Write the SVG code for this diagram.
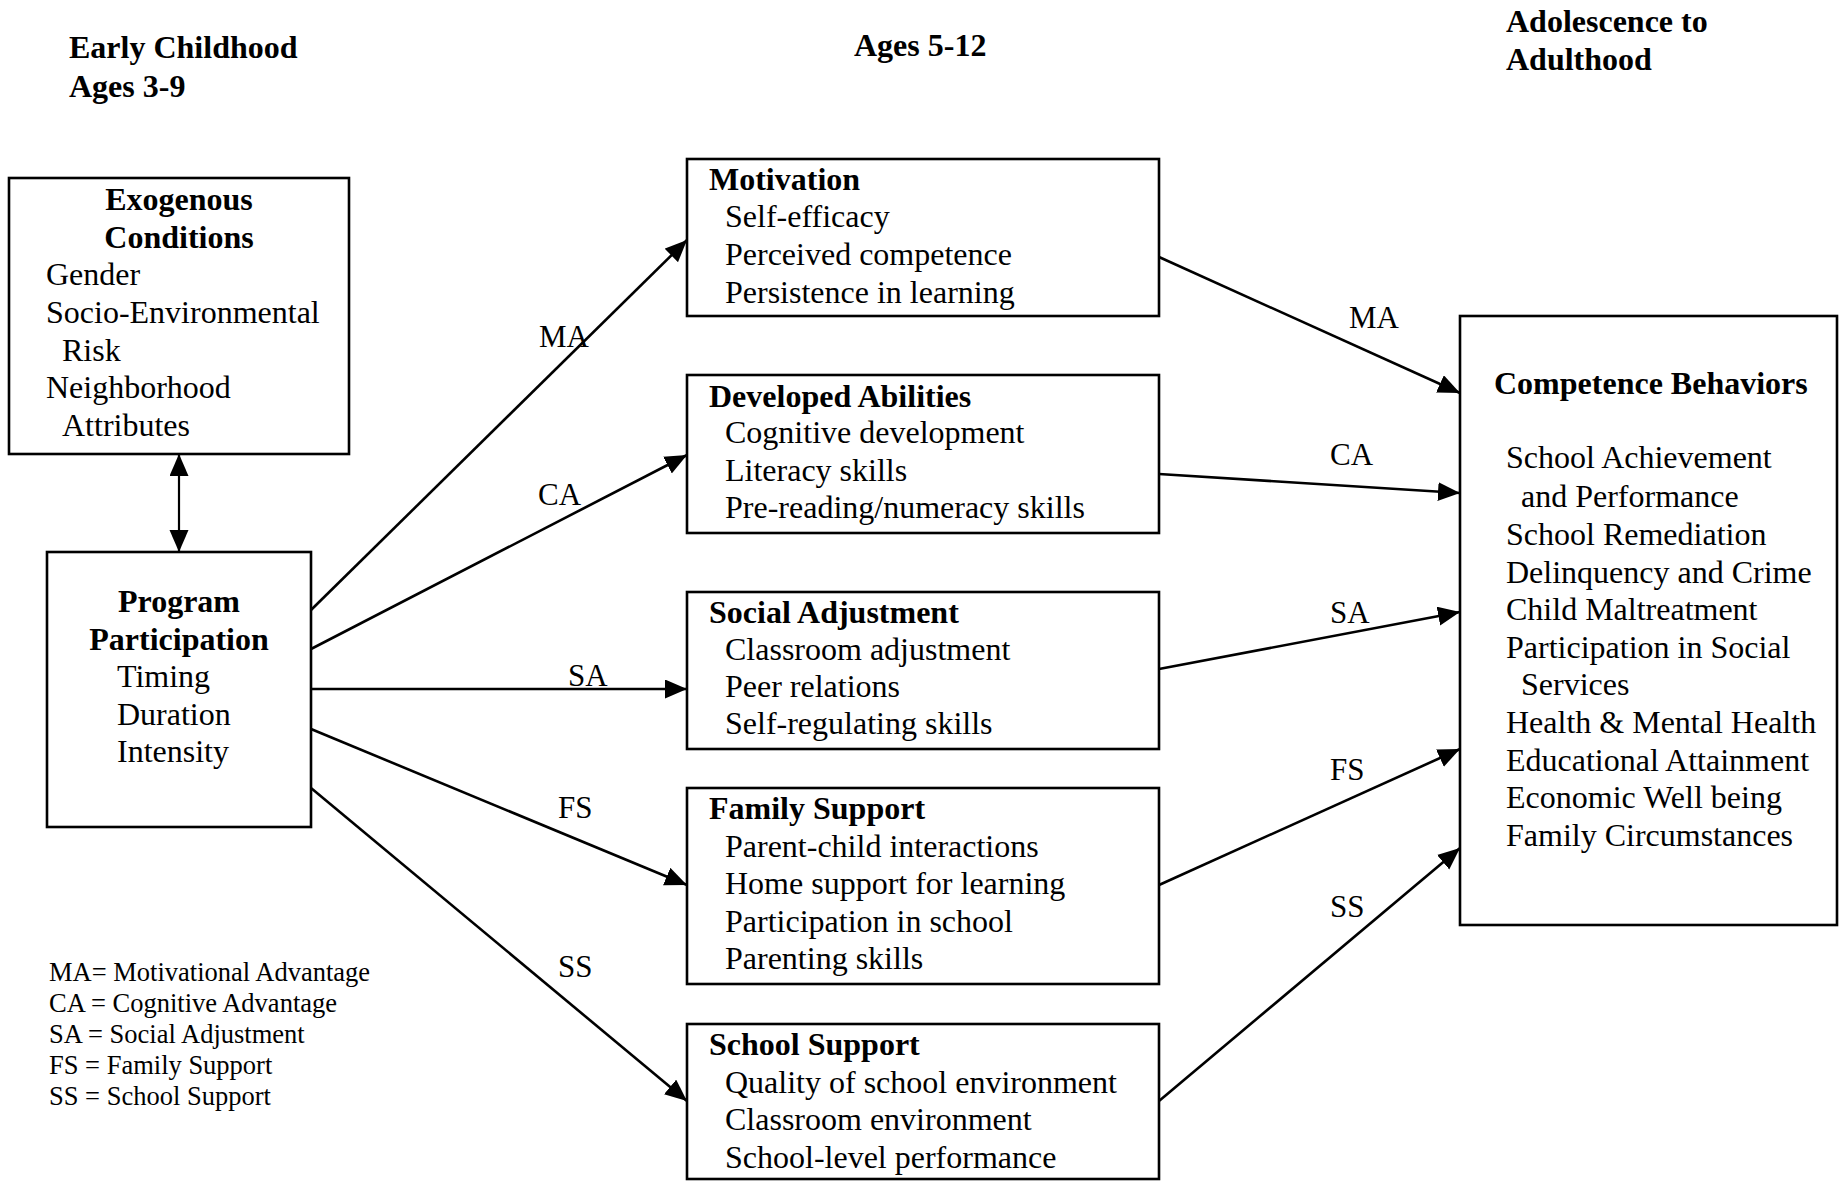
<svg xmlns="http://www.w3.org/2000/svg" width="1842" height="1181" viewBox="0 0 1842 1181">
<defs>
<style>
text{font-family:"Liberation Serif","Times New Roman",serif;fill:#000}
.b{font-weight:bold;font-size:32px}
.t{font-size:32px}
.l{font-size:31px}
.g{font-size:26.5px}
.box{fill:#fff;stroke:#000;stroke-width:2.6}
.c{stroke:#000;stroke-width:2.6;fill:none;marker-end:url(#ah)}
</style>
<marker id="ah" markerUnits="userSpaceOnUse" markerWidth="23" markerHeight="20" refX="22" refY="9.5" orient="auto-start-reverse" viewBox="0 0 23 20">
<path d="M0,0 L22,9.5 L0,19 z" fill="#000"/>
</marker>
</defs>
<rect width="1842" height="1181" fill="#fff"/>

<g id="headers">
<text class="b" x="69" y="58">Early Childhood</text>
<text class="b" x="69" y="97">Ages 3-9</text>
<text class="b" x="854" y="56">Ages 5-12</text>
<text class="b" x="1506" y="32">Adolescence to</text>
<text class="b" x="1506" y="70">Adulthood</text>
</g>

<g id="connectors">
<line x1="179" y1="454" x2="179" y2="552" stroke="#000" stroke-width="2.2" marker-start="url(#ah)" marker-end="url(#ah)"/>
<line class="c" x1="311" y1="610" x2="687" y2="240"/>
<line class="c" x1="311" y1="649" x2="687" y2="455"/>
<line class="c" x1="311" y1="689" x2="687" y2="689"/>
<line class="c" x1="311" y1="729" x2="687" y2="885"/>
<line class="c" x1="311" y1="788" x2="687" y2="1101"/>
<line class="c" x1="1159" y1="257" x2="1460" y2="393"/>
<line class="c" x1="1159" y1="474" x2="1460" y2="493"/>
<line class="c" x1="1159" y1="669" x2="1460" y2="612"/>
<line class="c" x1="1159" y1="885" x2="1460" y2="749"/>
<line class="c" x1="1159" y1="1101" x2="1460" y2="848"/>
<text class="l" x="539" y="347">MA</text>
<text class="l" x="538" y="505">CA</text>
<text class="l" x="568" y="686">SA</text>
<text class="l" x="558" y="818">FS</text>
<text class="l" x="558" y="977">SS</text>
<text class="l" x="1349" y="328">MA</text>
<text class="l" x="1330" y="465">CA</text>
<text class="l" x="1330" y="623">SA</text>
<text class="l" x="1330" y="780">FS</text>
<text class="l" x="1330" y="917">SS</text>
</g>

<g id="exogenous">
<rect class="box" x="9" y="178" width="340" height="276"/>
<text class="b" x="179" y="210" text-anchor="middle">Exogenous</text>
<text class="b" x="179" y="248" text-anchor="middle">Conditions</text>
<text class="t" x="46" y="285">Gender</text>
<text class="t" x="46" y="323">Socio-Environmental</text>
<text class="t" x="62" y="361">Risk</text>
<text class="t" x="46" y="398">Neighborhood</text>
<text class="t" x="62" y="436">Attributes</text>
</g>

<g id="program">
<rect class="box" x="47" y="552" width="264" height="275"/>
<text class="b" x="179" y="612" text-anchor="middle">Program</text>
<text class="b" x="179" y="650" text-anchor="middle">Participation</text>
<text class="t" x="117" y="687">Timing</text>
<text class="t" x="117" y="725">Duration</text>
<text class="t" x="117" y="762">Intensity</text>
</g>

<g id="motivation">
<rect class="box" x="687" y="159" width="472" height="157"/>
<text class="b" x="709" y="190">Motivation</text>
<text class="t" x="725" y="227">Self-efficacy</text>
<text class="t" x="725" y="265">Perceived competence</text>
<text class="t" x="725" y="303">Persistence in learning</text>
</g>

<g id="abilities">
<rect class="box" x="687" y="375" width="472" height="158"/>
<text class="b" x="709" y="407">Developed Abilities</text>
<text class="t" x="725" y="443">Cognitive development</text>
<text class="t" x="725" y="481">Literacy skills</text>
<text class="t" x="725" y="518">Pre-reading/numeracy skills</text>
</g>

<g id="social">
<rect class="box" x="687" y="592" width="472" height="157"/>
<text class="b" x="709" y="623">Social Adjustment</text>
<text class="t" x="725" y="660">Classroom adjustment</text>
<text class="t" x="725" y="697">Peer relations</text>
<text class="t" x="725" y="734">Self-regulating skills</text>
</g>

<g id="family">
<rect class="box" x="687" y="788" width="472" height="196"/>
<text class="b" x="709" y="819">Family Support</text>
<text class="t" x="725" y="857">Parent-child interactions</text>
<text class="t" x="725" y="894">Home support for learning</text>
<text class="t" x="725" y="932">Participation in school</text>
<text class="t" x="725" y="969">Parenting skills</text>
</g>

<g id="school">
<rect class="box" x="687" y="1024" width="472" height="155"/>
<text class="b" x="709" y="1055">School Support</text>
<text class="t" x="725" y="1093">Quality of school environment</text>
<text class="t" x="725" y="1130">Classroom environment</text>
<text class="t" x="725" y="1168">School-level performance</text>
</g>

<g id="competence">
<rect class="box" x="1460" y="316" width="377" height="609"/>
<text class="b" x="1494" y="394">Competence Behaviors</text>
<text class="t" x="1506" y="468">School Achievement</text>
<text class="t" x="1521" y="507">and Performance</text>
<text class="t" x="1506" y="545">School Remediation</text>
<text class="t" x="1506" y="583">Delinquency and Crime</text>
<text class="t" x="1506" y="620">Child Maltreatment</text>
<text class="t" x="1506" y="658">Participation in Social</text>
<text class="t" x="1521" y="695">Services</text>
<text class="t" x="1506" y="733">Health &amp; Mental Health</text>
<text class="t" x="1506" y="771">Educational Attainment</text>
<text class="t" x="1506" y="808">Economic Well being</text>
<text class="t" x="1506" y="846">Family Circumstances</text>
</g>

<g id="legend">
<text class="g" x="49" y="981">MA= Motivational Advantage</text>
<text class="g" x="49" y="1012">CA = Cognitive Advantage</text>
<text class="g" x="49" y="1043">SA = Social Adjustment</text>
<text class="g" x="49" y="1074">FS = Family Support</text>
<text class="g" x="49" y="1105">SS = School Support</text>
</g>
</svg>
